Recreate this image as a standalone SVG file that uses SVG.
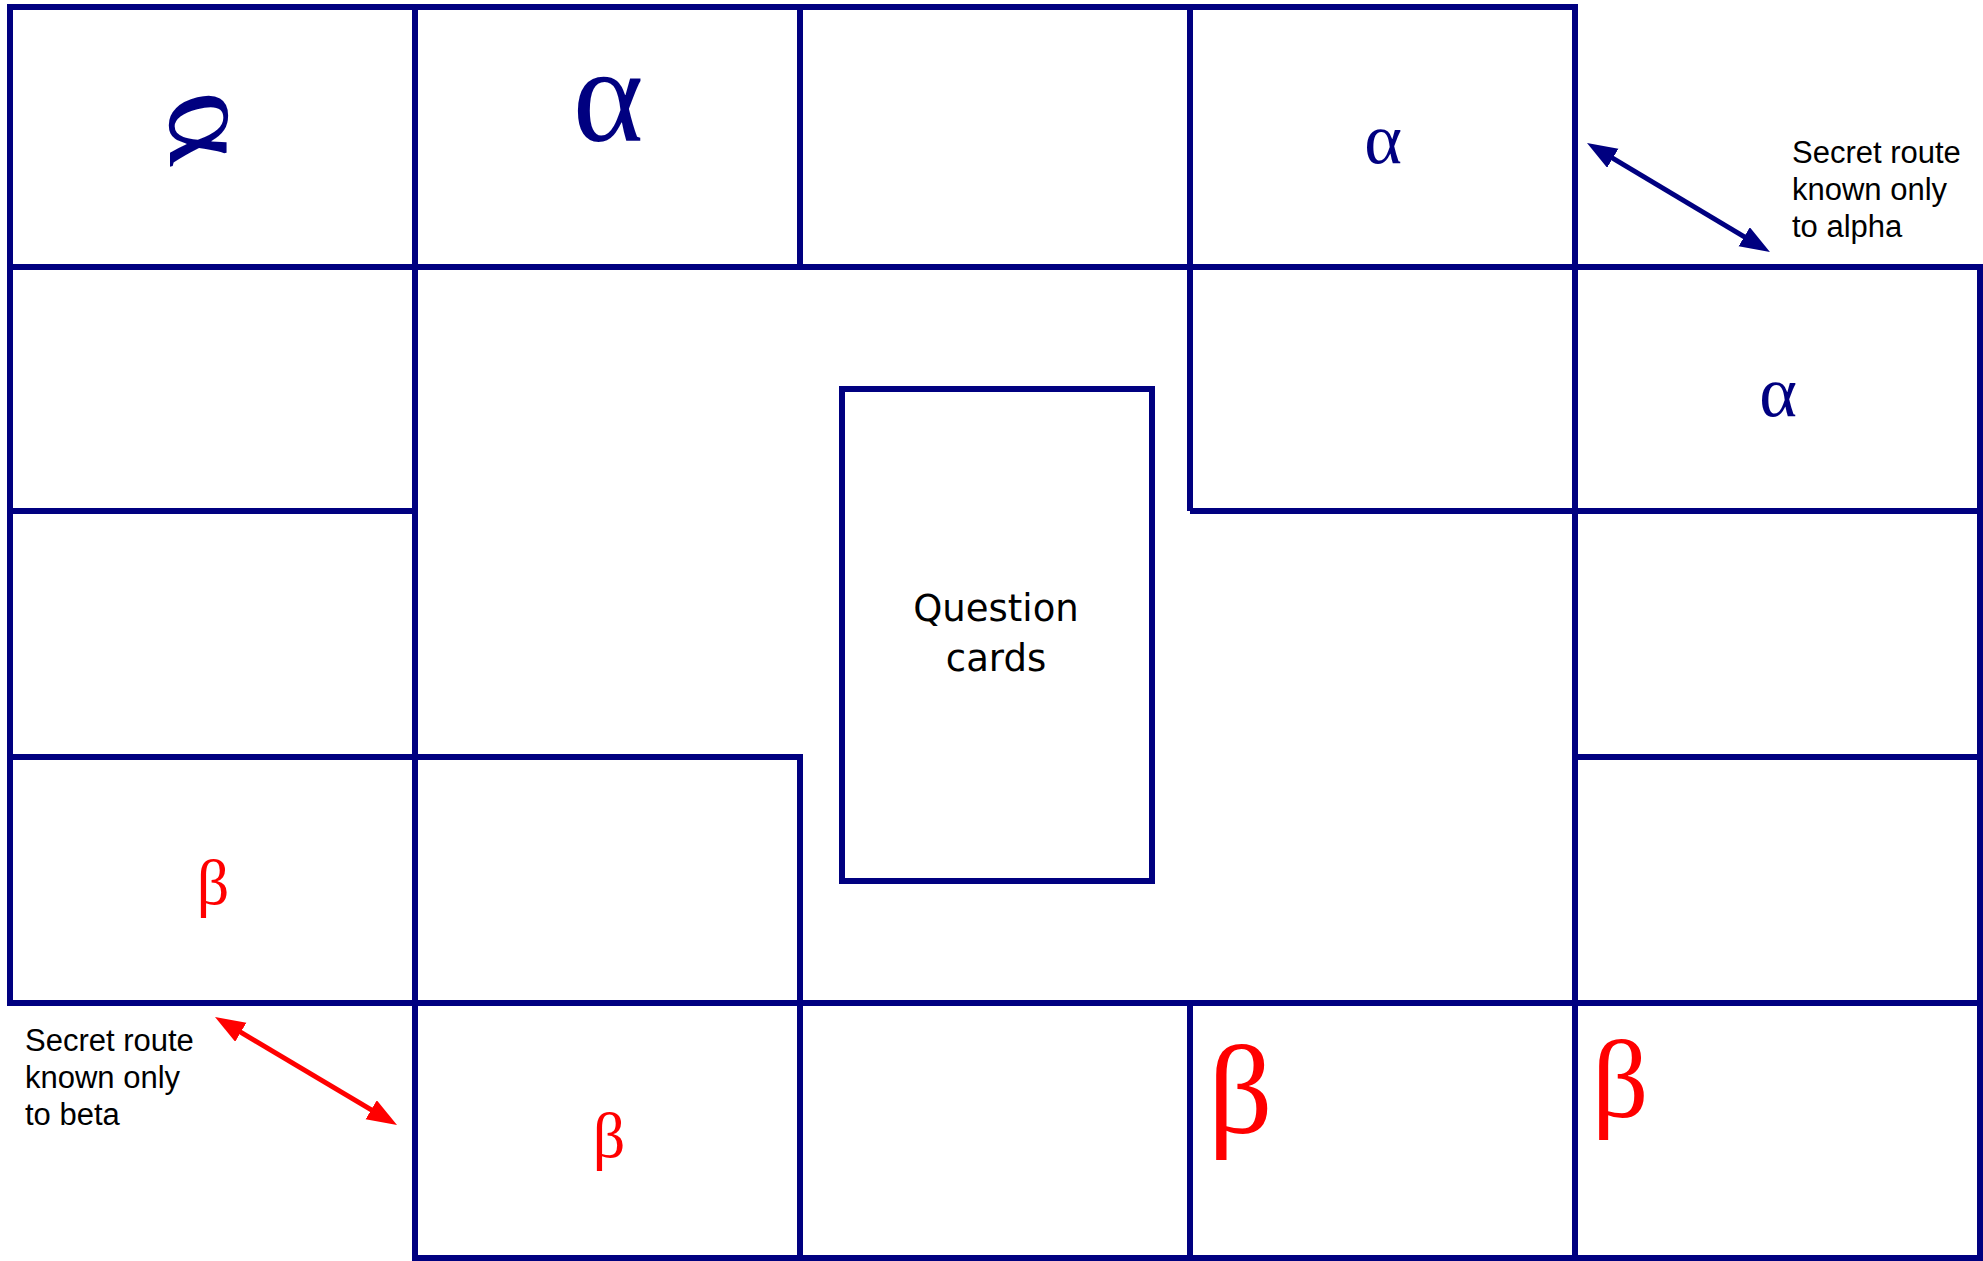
<svg xmlns="http://www.w3.org/2000/svg" width="1983" height="1261" viewBox="0 0 1983 1261">
<style>
.wall{fill:none;stroke:#000080;stroke-width:6;stroke-linecap:square;stroke-linejoin:miter}
.greekB{font-family:"Liberation Serif","DejaVu Serif","Times New Roman",serif;fill:#000080}
.greekR{font-family:"Liberation Serif","DejaVu Serif","Times New Roman",serif;fill:#FF0000}
.note{font-family:"Liberation Sans",Arial,sans-serif;font-size:31px;fill:#000000}
.qc{font-family:"DejaVu Sans",sans-serif;font-size:37px;fill:#000000;text-anchor:middle}
.route-a{stroke:#000080;stroke-width:5;fill:none}
.route-b{stroke:#FF0000;stroke-width:5;fill:none}
</style>
<defs>
<marker id="headA" markerUnits="userSpaceOnUse" markerWidth="32" markerHeight="24" refX="10" refY="11" orient="auto-start-reverse" viewBox="0 0 32 24">
<path d="M0,0 L30,11 L0,22 z" fill="#000080"/>
</marker>
<marker id="headB" markerUnits="userSpaceOnUse" markerWidth="32" markerHeight="24" refX="10" refY="11" orient="auto-start-reverse" viewBox="0 0 32 24">
<path d="M0,0 L30,11 L0,22 z" fill="#FF0000"/>
</marker>
</defs>
<rect width="1983" height="1261" fill="#ffffff"/>
<g id="board">
<path class="wall" d="M10,1003 L10,7 L1575,7"/>
<line class="wall" x1="415" y1="7" x2="415" y2="1258"/>
<line class="wall" x1="800" y1="7" x2="800" y2="267"/>
<line class="wall" x1="1190" y1="7" x2="1190" y2="508"/>
<line class="wall" x1="1575" y1="7" x2="1575" y2="1258"/>
<line class="wall" x1="10" y1="267" x2="1980" y2="267"/>
<line class="wall" x1="1980" y1="267" x2="1980" y2="1258"/>
<line class="wall" x1="10" y1="511" x2="415" y2="511"/>
<line class="wall" x1="1193" y1="511" x2="1980" y2="511"/>
<path class="wall" d="M10,757 L800,757 L800,1258"/>
<line class="wall" x1="1575" y1="757" x2="1980" y2="757"/>
<line class="wall" x1="10" y1="1003" x2="1980" y2="1003"/>
<line class="wall" x1="1190" y1="1003" x2="1190" y2="1258"/>
<line class="wall" x1="415" y1="1258" x2="1980" y2="1258"/>
</g>
<g id="question-cards">
<rect class="wall" x="842" y="389" width="310" height="492"/>
<text class="qc" x="996" y="621">Question</text>
<text class="qc" x="996" y="671">cards</text>
</g>
<g id="alpha-marks">
<text class="greekB" font-size="140" text-anchor="middle" transform="translate(212,124) skewX(-15) rotate(75) scale(1,0.85)" dominant-baseline="central">α</text>
<text class="greekB" font-size="135" text-anchor="middle" x="608" y="141">α</text>
<text class="greekB" font-size="72" text-anchor="middle" x="1383" y="163">α</text>
<text class="greekB" font-size="72" text-anchor="middle" x="1778" y="416">α</text>
</g>
<g id="beta-marks">
<text class="greekR" font-size="64" text-anchor="middle" x="213" y="904">β</text>
<text class="greekR" font-size="64" text-anchor="middle" x="609" y="1157">β</text>
<text class="greekR" font-size="127" x="1208" y="1133">β</text>
<text class="greekR" font-size="111" x="1592" y="1117">β</text>
</g>
<g id="labels">
<text class="note" x="1792" y="163">Secret route</text>
<text class="note" x="1792" y="200">known only</text>
<text class="note" x="1792" y="237">to alpha</text>
<text class="note" x="25" y="1051">Secret route</text>
<text class="note" x="25" y="1088">known only</text>
<text class="note" x="25" y="1125">to beta</text>
</g>
<g id="connectors">
<line class="route-a" x1="1604.2" y1="153.2" x2="1752.8" y2="241.8" marker-start="url(#headA)" marker-end="url(#headA)"/>
<line class="route-b" x1="232.2" y1="1027.2" x2="379.8" y2="1114.8" marker-start="url(#headB)" marker-end="url(#headB)"/>
</g>
</svg>
